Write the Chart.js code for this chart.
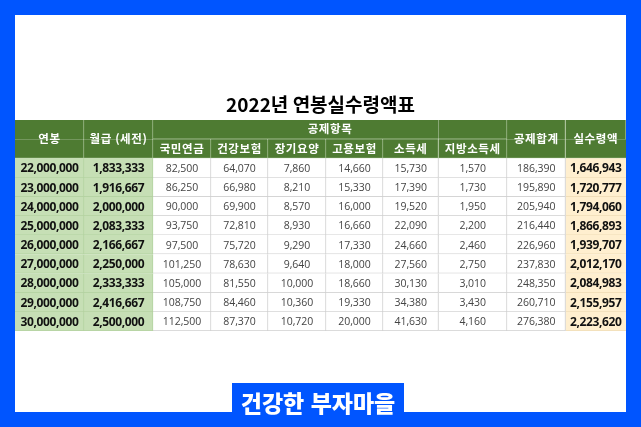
<!DOCTYPE html>
<html lang="ko">
<head>
<meta charset="utf-8">
<style>
  html, body { margin: 0; padding: 0; background: #fff; }
  #page { position: relative; width: 641px; height: 427px; overflow: hidden; }
  #frame { position: absolute; inset: 0; border: 15px solid #0055ff; }
  #chart { position: absolute; left: 0; top: 0; }
  #badge {
    position: absolute; left: 232px; top: 383px; width: 172px; height: 29px;
    background: #0055ff; color: #fff; text-align: center;
    font: 900 23px/39px "Noto Sans CJK KR", sans-serif;
  }
</style>
</head>
<body>
<div id="page">
  <div id="frame"></div>
  <canvas id="chart" width="641" height="427"></canvas>
  <div id="badge">건강한 부자마을</div>
</div>
<script src="https://cdn.jsdelivr.net/npm/chart.js@4"></script>
<script>
const titleText = "2022년 연봉실수령액표";
const groupLabel = "공제항목";

const annualSalary = [22000000, 23000000, 24000000, 25000000, 26000000, 27000000, 28000000, 29000000, 30000000];
const monthlyPay = [1833333, 1916667, 2000000, 2083333, 2166667, 2250000, 2333333, 2416667, 2500000];
const pension = [82500, 86250, 90000, 93750, 97500, 101250, 105000, 108750, 112500];
const healthIns = [64070, 66980, 69900, 72810, 75720, 78630, 81550, 84460, 87370];
const longTermCare = [7860, 8210, 8570, 8930, 9290, 9640, 10000, 10360, 10720];
const employmentIns = [14660, 15330, 16000, 16660, 17330, 18000, 18660, 19330, 20000];
const incomeTax = [15730, 17390, 19520, 22090, 24660, 27560, 30130, 34380, 41630];
const localTax = [1570, 1730, 1950, 2200, 2460, 2750, 3010, 3430, 4160];
const totalDeduction = [186390, 195890, 205940, 216440, 226960, 237830, 248350, 260710, 276380];
const netPay = [1646943, 1720777, 1794060, 1866893, 1939707, 2012170, 2084983, 2155957, 2223620];

const columnLabels = ["연봉", "월급 (세전)", "국민연금", "건강보험", "장기요양", "고용보험", "소득세", "지방소득세", "공제합계", "실수령액"];
const columnValues = [annualSalary, monthlyPay, pension, healthIns, longTermCare, employmentIns, incomeTax, localTax, totalDeduction, netPay];
const columnWidths = [69, 69, 58, 57, 58, 57, 55.5, 68.5, 58.5, 60.5];

const formatterNumber = new Intl.NumberFormat("en-US");
const rowKeys = ["head-top", "head-sub", ...annualSalary.map(String)];
const HEAD_ROWS = 2;

const headerColor = "#4e7b32";
const headerLine = "#a5bf92";
const greenFill = "#c6dfb5";
const greenLine = "#b3d2a0";
const yellowFill = "#ffefcf";
const yellowLine = "#efdcb6";
const cellLine = "#cfcfcf";

const isGrouped = (col) => col >= 2 && col <= 7;

function cellFill(row, col) {
  if (row < HEAD_ROWS) return headerColor;
  if (col < 2) return greenFill;
  if (col === 9) return yellowFill;
  return "#ffffff";
}

function cellLineColor(row, col) {
  if (row < HEAD_ROWS) return headerLine;
  if (col < 2) return greenLine;
  if (col === 9) return yellowLine;
  return cellLine;
}

function cellBorder(row, col) {
  if (row === 0) {
    // top header row: merged cells hide the lines inside them
    return { top: 0, left: 0, right: isGrouped(col) && col !== 7 ? 0 : 1, bottom: isGrouped(col) ? 1 : 0 };
  }
  return { top: 0, left: 0, right: col === 9 ? 0 : 1, bottom: 1 };
}

const datasets = columnLabels.map((label, col) => ({
  label,
  data: rowKeys.map(() => columnWidths[col]),
  backgroundColor: rowKeys.map((_, row) => cellFill(row, col)),
  borderColor: rowKeys.map((_, row) => cellLineColor(row, col)),
  borderWidth: rowKeys.map((_, row) => cellBorder(row, col)),
  borderSkipped: false,
  barPercentage: 1,
  categoryPercentage: 1,
}));

const cellText = {
  id: "cellText",
  afterDatasetsDraw(chart) {
    const { ctx } = chart;
    const cell = (col, row) => chart.getDatasetMeta(col).data[row];
    ctx.save();
    ctx.textAlign = "center";
    ctx.textBaseline = "middle";

    const put = (text, x, y, font, color, spacing) => {
      ctx.font = font;
      ctx.fillStyle = color;
      ctx.letterSpacing = spacing || "0px";
      ctx.fillText(text, x, y);
    };
    const headFont = 'bold 11.5px "Noto Sans CJK KR"';

    columnLabels.forEach((label, col) => {
      const sub = cell(col, 1);
      const x = (sub.x + sub.base) / 2;
      if (isGrouped(col)) {
        put(label, x, sub.y, headFont, "#fff", "0.6px");
      } else {
        put(label, x, (sub.y + cell(col, 0).y) / 2 - 1, headFont, "#fff", "0.6px");
      }
    });
    const groupX = (cell(2, 0).base + cell(7, 0).x) / 2;
    put(groupLabel, groupX, cell(2, 0).y - 1, headFont, "#fff", "0.6px");

    columnValues.forEach((values, col) => {
      const strong = col < 2 || col === 9;
      values.forEach((value, i) => {
        const bar = cell(col, i + HEAD_ROWS);
        const font = strong ? 'bold 12px "Open Sans"' : '10.5px "Open Sans"';
        const spacing = strong ? "-0.35px" : "0px";
        put(formatterNumber.format(value), (bar.x + bar.base) / 2, bar.y + 1, font, strong ? "#111" : "#444", spacing);
      });
    });
    ctx.restore();
  },
};

new Chart(document.getElementById("chart"), {
  type: "bar",
  data: { labels: rowKeys, datasets },
  plugins: [cellText],
  options: {
    indexAxis: "y",
    responsive: false,
    animation: false,
    layout: { padding: { left: 15, right: 15, top: 0, bottom: 96 } },
    scales: {
      x: { stacked: true, display: false, min: 0, max: columnWidths.reduce((a, b) => a + b, 0) },
      y: { stacked: true, display: false },
    },
    plugins: {
      legend: { display: false },
      tooltip: { enabled: false },
      title: {
        display: true,
        text: titleText,
        color: "#000",
        font: { family: '"Noto Sans CJK KR"', size: 19, weight: "bold", lineHeight: 1.2 },
        padding: { top: 93, bottom: 4.2 },
      },
    },
  },
});
</script>
</body>
</html>
